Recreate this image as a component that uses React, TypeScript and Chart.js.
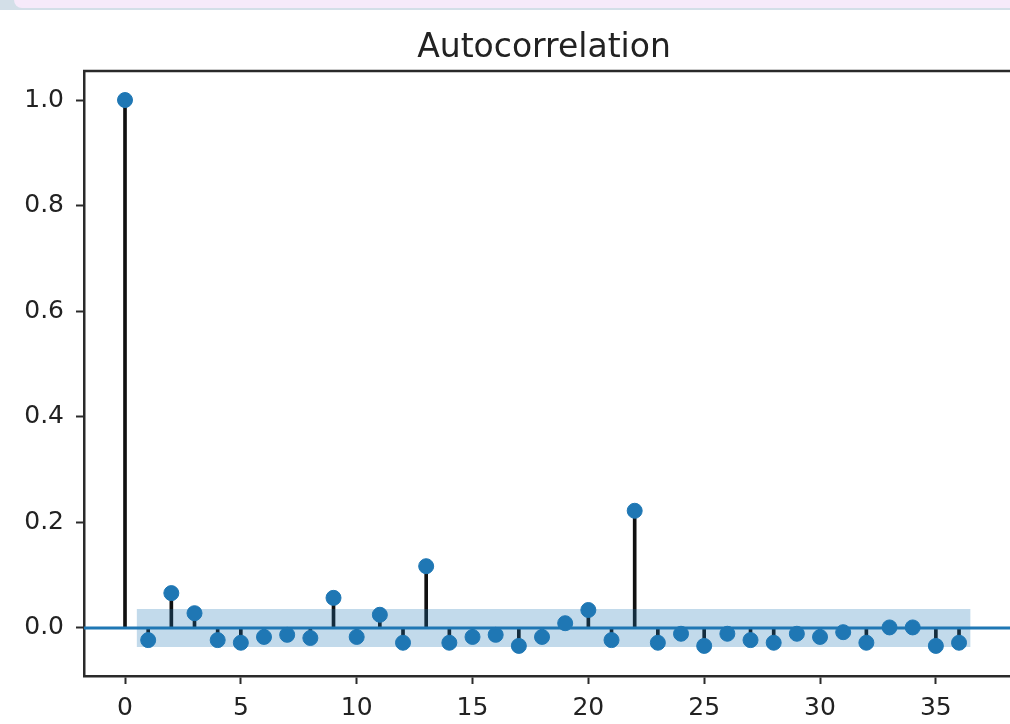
import React, { useEffect, useRef } from "react";
import { Chart, registerables } from "chart.js";

Chart.register(...registerables);

const lags = [0, 1, 2, 3, 4, 5, 6, 7, 8, 9, 10, 11, 12, 13, 14, 15, 16, 17, 18, 19, 20, 21, 22, 23, 24, 25, 26, 27, 28, 29, 30, 31, 32, 33, 34, 35, 36];
const acfValues = [
  1.0, -0.023, 0.066, 0.028, -0.023, -0.028, -0.017, -0.013, -0.019, 0.057,
  -0.017, 0.025, -0.028, 0.117, -0.028, -0.017, -0.013, -0.034, -0.017, 0.009,
  0.034, -0.023, 0.222, -0.028, -0.011, -0.034, -0.011, -0.023, -0.028, -0.011,
  -0.017, -0.008, -0.028, 0.001, 0.001, -0.034, -0.028,
];
const bandLags = [0.5, 36.5];
const bandUpper = [0.036, 0.036];
const bandLower = [-0.036, -0.036];
const xTickValues = [0, 5, 10, 15, 20, 25, 30, 35];
const yTickValues = [0.0, 0.2, 0.4, 0.6, 0.8, 1.0];
const xRange = [-1.77, 38.2];
const yRange = [-0.091, 1.055];
const zeroLevel = 0;
const chartTitle = "Autocorrelation";

const FONT = '"DejaVu Sans", "Liberation Sans", sans-serif';
const C0 = "#1f77b4";
const INK = "#222222";
const SPINE = "#2a2a2a";

const framePlugin = {
  id: "frameAndTitle",
  afterDraw(chart: any) {
    const { ctx, chartArea } = chart;
    ctx.save();
    ctx.strokeStyle = SPINE;
    ctx.lineWidth = 2.5;
    ctx.beginPath();
    ctx.moveTo(chartArea.left - 1, chartArea.top);
    ctx.lineTo(chartArea.right, chartArea.top);
    ctx.stroke();
    ctx.fillStyle = INK;
    ctx.font = `33px ${FONT}`;
    ctx.textAlign = "center";
    ctx.textBaseline = "alphabetic";
    ctx.fillText(chartTitle, (chartArea.left + chartArea.right) / 2 - 3, 57);
    ctx.restore();
  },
};

export default function App() {
  const canvasRef = useRef<HTMLCanvasElement | null>(null);

  useEffect(() => {
    const canvas = canvasRef.current;
    if (!canvas) return;
    const chart = new Chart(canvas, {
      type: "bar",
      data: {
        datasets: [
          {
            type: "scatter",
            label: "markers",
            data: lags.map((l, i) => ({ x: l, y: acfValues[i] })),
            backgroundColor: C0,
            borderColor: C0,
            borderWidth: 1,
            pointRadius: 7.5,
            order: 1,
          } as any,
          {
            type: "line",
            label: "zero",
            data: xRange.map((x) => ({ x, y: zeroLevel })),
            borderColor: C0,
            borderWidth: 3,
            pointRadius: 0,
            fill: false,
            order: 2,
          } as any,
          {
            type: "line",
            label: "upper",
            data: bandLags.map((x, i) => ({ x, y: bandUpper[i] })),
            borderWidth: 0,
            borderColor: "rgba(0,0,0,0)",
            pointRadius: 0,
            backgroundColor: "rgba(31,119,180,0.27)",
            fill: "+1",
            order: 3,
          } as any,
          {
            type: "line",
            label: "lower",
            data: bandLags.map((x, i) => ({ x, y: bandLower[i] })),
            borderWidth: 0,
            borderColor: "rgba(0,0,0,0)",
            pointRadius: 0,
            fill: false,
            order: 3,
          } as any,
          {
            type: "bar",
            label: "stems",
            data: lags.map((l, i) => ({ x: l, y: acfValues[i] })),
            backgroundColor: "#111111",
            barThickness: 3,
            order: 4,
          } as any,
        ],
      },
      options: {
        animation: false,
        responsive: false,
        devicePixelRatio: 1,
        layout: { autoPadding: false, padding: { top: 71, left: 0, right: 0, bottom: 0 } },
        plugins: {
          legend: { display: false },
          tooltip: { enabled: false },
          title: { display: false },
        },
        scales: {
          x: {
            type: "linear",
            min: xRange[0],
            max: xRange[1],
            offset: false,
            afterBuildTicks: (scale: any) => {
              scale.ticks = xTickValues.map((v) => ({ value: v }));
            },
            afterFit: (scale: any) => {
              scale.height = 48;
            },
            grid: {
              display: true,
              offset: false,
              drawOnChartArea: false,
              drawTicks: true,
              tickLength: 8,
              tickWidth: 2,
              tickColor: SPINE,
            },
            border: { display: true, color: SPINE, width: 2.5 },
            ticks: {
              autoSkip: false,
              maxRotation: 0,
              padding: 9,
              color: INK,
              font: { family: FONT, size: 25 },
              callback: (v: any) => String(v),
            },
          },
          y: {
            type: "linear",
            min: yRange[0],
            max: yRange[1],
            afterBuildTicks: (scale: any) => {
              scale.ticks = yTickValues.map((v) => ({ value: v }));
            },
            afterFit: (scale: any) => {
              scale.width = 84;
            },
            grid: {
              display: true,
              drawOnChartArea: false,
              drawTicks: true,
              tickLength: 8,
              tickWidth: 2,
              tickColor: SPINE,
            },
            border: { display: true, color: SPINE, width: 2.5 },
            ticks: {
              padding: 12,
              color: INK,
              font: { family: FONT, size: 25 },
              callback: (v: any) => Number(v).toFixed(1),
            },
          },
        },
      },
      plugins: [framePlugin],
    });
    return () => chart.destroy();
  }, []);

  return (
    <div
      style={{
        position: "absolute",
        left: 0,
        top: 0,
        width: 1010,
        height: 724,
        background: "#ffffff",
        overflow: "hidden",
      }}
    >
      <canvas
        ref={canvasRef}
        width={1010}
        height={724}
        style={{ position: "absolute", left: 0, top: 0, width: 1010, height: 724 }}
      />
      <div
        style={{
          position: "absolute",
          left: 0,
          top: 0,
          width: 1010,
          height: 10,
          background: "#d3dfe8",
        }}
      >
        <div
          style={{
            position: "absolute",
            left: 14,
            top: 0,
            right: 0,
            height: 8,
            background: "#f6eafa",
            borderBottomLeftRadius: 12,
          }}
        />
      </div>
    </div>
  );
}
